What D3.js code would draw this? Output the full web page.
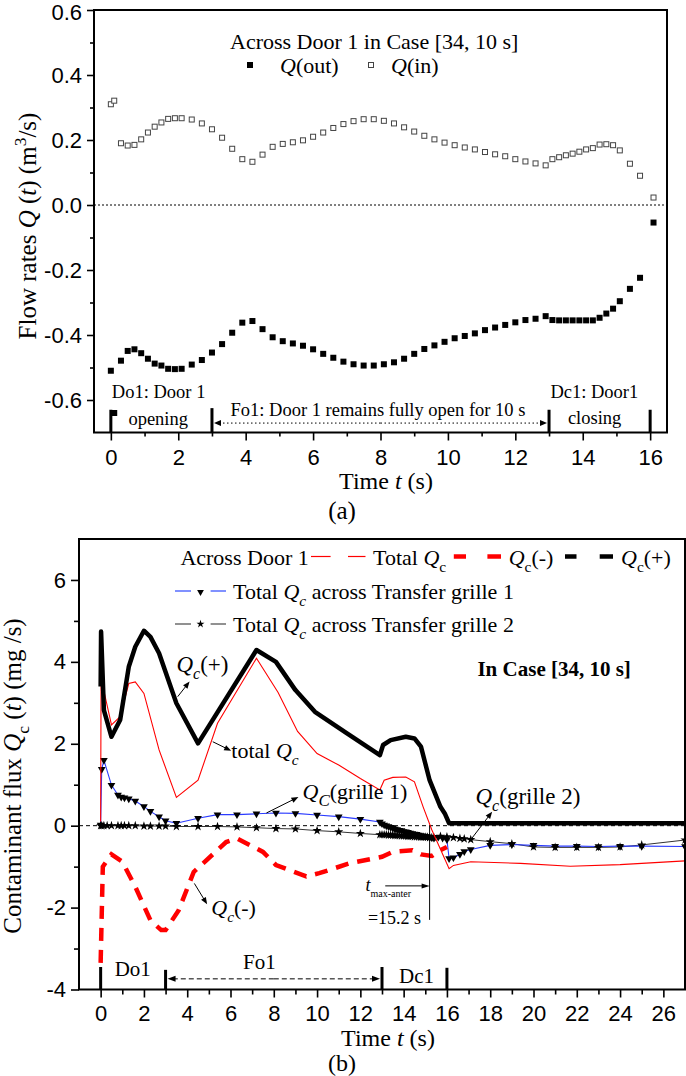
<!DOCTYPE html>
<html><head><meta charset="utf-8">
<script src="https://cdn.jsdelivr.net/npm/d3@7"></script>
<style>html,body{margin:0;padding:0;background:#fff}svg{display:block}</style>
</head><body>
<svg id="chart" width="686" height="1076"></svg>
<script>
// ---------------- Panel (a) data ----------------
const timeA = [0,0.1,0.3,0.5,0.7,0.9,1.1,1.3,1.5,1.7,1.9,2.1,2.4,2.7,3.0,3.3,3.6,3.9,4.2,4.5,4.8,5.1,5.4,5.7,6.0,6.3,6.6,6.9,7.2,7.5,7.8,8.1,8.4,8.7,9.0,9.3,9.6,9.9,10.2,10.5,10.8,11.1,11.4,11.7,12.0,12.3,12.6,12.9,13.1,13.3,13.5,13.7,13.9,14.1,14.3,14.5,14.7,14.9,15.1,15.4,15.7,16.1];
const qOut = [-0.510,-0.640,-0.479,-0.449,-0.444,-0.456,-0.473,-0.488,-0.494,-0.504,-0.505,-0.504,-0.491,-0.477,-0.454,-0.428,-0.393,-0.362,-0.357,-0.382,-0.407,-0.419,-0.426,-0.433,-0.444,-0.458,-0.470,-0.482,-0.490,-0.494,-0.494,-0.490,-0.484,-0.473,-0.458,-0.443,-0.432,-0.421,-0.410,-0.403,-0.395,-0.385,-0.377,-0.369,-0.361,-0.354,-0.350,-0.342,-0.354,-0.355,-0.355,-0.355,-0.355,-0.355,-0.355,-0.347,-0.334,-0.319,-0.296,-0.258,-0.224,-0.054];
const qIn = [0.310,0.321,0.190,0.183,0.185,0.202,0.223,0.241,0.254,0.265,0.267,0.267,0.263,0.251,0.233,0.207,0.173,0.141,0.133,0.155,0.179,0.188,0.193,0.199,0.210,0.223,0.237,0.249,0.258,0.264,0.264,0.259,0.251,0.239,0.226,0.213,0.202,0.192,0.184,0.177,0.171,0.163,0.156,0.150,0.141,0.134,0.128,0.122,0.141,0.147,0.153,0.158,0.164,0.171,0.175,0.186,0.187,0.184,0.168,0.127,0.090,0.023];
const xTicksA = [0,2,4,6,8,10,12,14,16];
const xMinorA = [1,3,5,7,9,11,13,15];
const yTicksA = [-0.6,-0.4,-0.2,0,0.2,0.4,0.6];
const yMinorA = [-0.5,-0.3,-0.1,0.1,0.3,0.5];
const phaseTimes = [0,3,13,16];

// ---------------- Panel (b) data ----------------
const plusT = [0,0.02,0.15,0.5,0.9,1.3,1.6,2.0,2.3,2.7,3.0,3.5,4.5,7.2,8.1,9.0,9.9,11.4,12.9,13.05,13.4,14.1,14.5,14.8,15.2,15.7,15.9,16.1,27];
const plusV = [3.4,4.74,2.82,2.17,2.58,3.88,4.37,4.76,4.61,4.21,3.75,2.99,2.01,4.29,4.0,3.31,2.78,2.25,1.72,1.97,2.09,2.17,2.13,1.93,1.11,0.46,0.30,0.06,0.06];
const totT = [0,0.02,0.5,0.9,1.3,1.6,2.0,2.7,3.5,4.5,5.4,7.2,8.2,9.1,10.0,11.0,12.0,12.9,13.1,13.5,14.1,14.5,14.9,15.3,16.1,16.3,17.1,19.4,21.7,24.0,27];
const totV = [0.1,3.6,2.46,2.66,3.47,3.51,3.23,1.85,0.69,1.11,2.50,4.09,3.25,2.30,1.76,1.48,1.15,0.87,1.11,1.18,1.19,1.07,0.46,-0.10,-1.05,-0.97,-0.88,-0.92,-0.99,-0.95,-0.86];
const minusT = [0,0.1,0.5,1.0,1.6,2.3,2.8,3.0,3.6,4.3,5.8,6.3,7.5,8.1,9.5,10.1,11.5,13.0,13.5,14.4,14.8,15.3,15.7,16.0];
const minusV = [-3.35,-1.0,-0.70,-0.88,-1.49,-2.31,-2.55,-2.55,-2.07,-1.13,-0.40,-0.31,-0.64,-0.96,-1.24,-1.16,-0.92,-0.76,-0.64,-0.60,-0.70,-0.74,-0.60,-0.52];
const g1T = [0,0.05,0.15,0.5,0.8,0.95,1.1,1.3,1.6,2.0,2.3,2.7,3.0,3.5,4.5,5.4,6.3,7.2,8.1,9.0,10.0,11.0,12.0,12.9,13.0,13.1,13.2,13.3,13.4,13.5,13.6,13.7,13.8,13.9,14.0,14.1,14.2,14.3,14.4,14.5,14.6,14.7,14.8,14.9,15.0,15.1,15.2,15.3,15.4,15.6,15.8,16.0,16.1,16.3,16.6,16.8,17.1,18,19,20,21,22,23,24,25,27];
const g1V = [0.02,1.38,1.60,0.99,0.75,0.70,0.68,0.66,0.60,0.47,0.35,0.22,0.12,0.06,0.18,0.27,0.27,0.29,0.31,0.30,0.26,0.22,0.16,0.09,0.05,0.02,0.0,-0.02,-0.04,-0.06,-0.08,-0.09,-0.11,-0.12,-0.14,-0.15,-0.16,-0.18,-0.19,-0.20,-0.21,-0.23,-0.24,-0.25,-0.26,-0.27,-0.28,-0.29,-0.30,-0.28,-0.30,-0.34,-0.80,-0.78,-0.70,-0.63,-0.58,-0.48,-0.46,-0.48,-0.50,-0.50,-0.51,-0.50,-0.50,-0.51];
const g2T = [0,0.05,0.15,0.3,0.5,0.8,0.95,1.1,1.3,1.6,2.0,2.3,2.7,3.0,3.5,4.5,5.4,6.3,7.2,8.1,9.0,10.0,11.0,12.0,12.9,13.0,13.1,13.2,13.3,13.4,13.5,13.6,13.7,13.8,13.9,14.0,14.1,14.2,14.3,14.4,14.5,14.6,14.7,14.8,14.9,15.0,15.1,15.2,15.3,15.4,15.7,16.0,16.3,16.6,16.8,17.1,18,19,20,21,22,23,24,25,27];
const g2V = [0,0,0,0,0,0,0,0,0,0,-0.01,-0.01,-0.01,-0.01,-0.02,-0.02,-0.02,-0.03,-0.05,-0.07,-0.08,-0.12,-0.15,-0.19,-0.22,-0.22,-0.22,-0.22,-0.23,-0.23,-0.23,-0.24,-0.24,-0.24,-0.25,-0.25,-0.25,-0.26,-0.26,-0.26,-0.27,-0.27,-0.27,-0.28,-0.28,-0.28,-0.28,-0.29,-0.29,-0.29,-0.26,-0.27,-0.29,-0.31,-0.32,-0.34,-0.39,-0.44,-0.52,-0.53,-0.53,-0.53,-0.52,-0.47,-0.35];
const xTicksB = [0,2,4,6,8,10,12,14,16,18,20,22,24,26];
const xMinorB = [1,3,5,7,9,11,13,15,17,19,21,23,25];
const yTicksB = [-4,-2,0,2,4,6];
const yMinorB = [-3,-1,1,3,5];
const tMaxAnter = 15.2;

// ---------------- helpers ----------------
const SERIF = "'Liberation Serif','Times New Roman',serif";
const SANS = "'Liberation Sans',Arial,sans-serif";
const svg = d3.select('#chart');
const zip = (a,b) => a.map((d,i)=>[d,b[i]]);

function rich(g, x, y, segs, size, o = {}) {
  const t = g.append('text').attr('x', x).attr('y', y)
    .attr('font-family', SERIF).attr('font-size', size).attr('fill', '#000');
  if (o.anchor) t.attr('text-anchor', o.anchor);
  if (o.weight) t.attr('font-weight', o.weight);
  if (o.transform) t.attr('transform', o.transform);
  let cur = 0;
  segs.forEach(s => {
    if (typeof s === 'string') s = {t: s};
    const sp = t.append('tspan').text(s.t);
    if (s.i) sp.attr('font-style', 'italic');
    const target = s.sub ? size * 0.3 : s.sup ? -size * 0.4 : 0;
    if (target !== cur) sp.attr('dy', target - cur);
    cur = target;
    if (s.sub || s.sup) sp.attr('font-size', s.fs || size * 0.7);
  });
  return t;
}
function arrow(g, x1, y1, x2, y2, o = {}) {
  const len = o.head || 7, w = o.w || 3;
  const a = Math.atan2(y2 - y1, x2 - x1);
  g.append('line').attr('x1', x1).attr('y1', y1)
    .attr('x2', x2 - Math.cos(a) * len * 0.7).attr('y2', y2 - Math.sin(a) * len * 0.7)
    .attr('stroke', '#000').attr('stroke-width', o.sw || 1)
    .attr('stroke-dasharray', o.dash || null);
  const bx = x2 - Math.cos(a) * len, by = y2 - Math.sin(a) * len;
  const px = -Math.sin(a) * w, py = Math.cos(a) * w;
  g.append('path').attr('d', `M${x2},${y2}L${bx+px},${by+py}L${bx-px},${by-py}Z`).attr('fill', '#000');
}
function styleAxis(g, size) {
  g.select('.domain').remove();
  g.selectAll('line').attr('stroke', '#000').attr('stroke-width', 1.6);
  g.selectAll('text').attr('font-family', SANS).attr('font-size', size).attr('fill', '#000');
}

// ================= Panel (a) =================
const xA = d3.scaleLinear([-0.5, 16.5], [94, 667]);
const yA = d3.scaleLinear([-0.7, 0.6], [432.5, 10]);
const gA = svg.append('g');

gA.append('line').attr('x1', xA.range()[0]).attr('x2', xA.range()[1])
  .attr('y1', yA(0)).attr('y2', yA(0)).attr('stroke', '#000').attr('stroke-width', 1)
  .attr('stroke-dasharray', '2,2');

gA.append('g').attr('transform', `translate(0,${yA.range()[0]})`)
  .call(d3.axisBottom(xA).tickValues(xTicksA).tickSize(8).tickPadding(9).tickFormat(d => String(d)))
  .call(g => styleAxis(g, 22));
gA.append('g').attr('transform', `translate(0,${yA.range()[0]})`)
  .call(d3.axisBottom(xA).tickValues(xMinorA).tickSize(4).tickFormat(''))
  .call(g => styleAxis(g, 22));
gA.append('g').attr('transform', `translate(${xA.range()[0]},0)`)
  .call(d3.axisLeft(yA).tickValues(yTicksA).tickSize(7).tickPadding(5).tickFormat(d => d.toFixed(1)))
  .call(g => styleAxis(g, 22));
gA.append('g').attr('transform', `translate(${xA.range()[0]},0)`)
  .call(d3.axisLeft(yA).tickValues(yMinorA).tickSize(4).tickFormat(''))
  .call(g => styleAxis(g, 22));
gA.selectAll('text').filter(function(){ return this.textContent === '0.6'; }).attr('dy', '0.45em');

const sq = 6;
gA.append('g').selectAll('rect').data(zip(timeA, qIn)).join('rect')
  .attr('x', d => xA(d[0]) - sq/2 + 0.5).attr('y', d => yA(d[1]) - sq/2 + 0.5)
  .attr('width', sq - 1).attr('height', sq - 1)
  .attr('fill', '#fff').attr('stroke', '#444').attr('stroke-width', 1);
gA.append('g').selectAll('rect').data(zip(timeA, qOut)).join('rect')
  .attr('x', d => xA(d[0]) - sq/2).attr('y', d => yA(d[1]) - sq/2)
  .attr('width', sq).attr('height', sq).attr('fill', '#000');

phaseTimes.forEach((t, i) => {
  gA.append('line').attr('x1', xA(t)).attr('x2', xA(t))
    .attr('y1', yA(i === 1 ? -0.625 : -0.63)).attr('y2', yA(-0.7))
    .attr('stroke', '#000').attr('stroke-width', 3);
});
const yArrA = yA(-0.671);
arrow(gA, (xA(3) + xA(13)) / 2, yArrA, xA(3) + 2, yArrA, {dash: '1.5,2.5', head: 7, w: 3});
arrow(gA, (xA(3) + xA(13)) / 2, yArrA, xA(13) - 2, yArrA, {dash: '1.5,2.5', head: 7, w: 3});

rich(gA, xA(0.03), yA(-0.594), ['Do1: Door 1'], 18.5);
rich(gA, xA(0.52), yA(-0.677), ['opening'], 18.5);
rich(gA, xA(3.55), yA(-0.649), ['Fo1: Door 1 remains fully open for 10 s'], 18.5);
rich(gA, xA(13.04), yA(-0.594), ['Dc1: Door1'], 18.5);
rich(gA, xA(13.56), yA(-0.674), ['closing'], 18.5);

rich(gA, 230, 49, ['Across Door 1 in Case [34, 10 s]'], 22);
gA.append('rect').attr('x', 250 - 3).attr('y', 65 - 3).attr('width', 6).attr('height', 6).attr('fill', '#000');
rich(gA, 280, 73, [{t: 'Q', i: 1}, '(out)'], 22);
gA.append('rect').attr('x', 371 - 2.5).attr('y', 65 - 2.5).attr('width', 5).attr('height', 5)
  .attr('fill', '#fff').attr('stroke', '#444');
rich(gA, 391, 73, [{t: 'Q', i: 1}, '(in)'], 22);

gA.append('rect').attr('x', 94).attr('y', 10).attr('width', 573).attr('height', 422.5)
  .attr('fill', 'none').attr('stroke', '#000').attr('stroke-width', 2);

rich(gA, 0, 0, ['Flow rates ', {t: 'Q', i: 1}, ' (', {t: 't', i: 1}, ') (m', {t: '3', sup: 1}, '/s)'], 25,
  {anchor: 'middle', transform: 'translate(36,226) rotate(-90)'});
rich(gA, 386, 489, ['Time ', {t: 't', i: 1}, ' (s)'], 24, {anchor: 'middle'});
rich(gA, 342, 519, ['(a)'], 25, {anchor: 'middle'});

// ================= Panel (b) =================
const xB = d3.scaleLinear([-1, 27], [79, 685]);
const yB = d3.scaleLinear([-4, 7], [989.5, 539]);
const gB = svg.append('g');
const clip = svg.append('defs').append('clipPath').attr('id', 'clipB');
clip.append('rect').attr('x', 79).attr('y', 539).attr('width', 606).attr('height', 450.5);

gB.append('line').attr('x1', xB.range()[0]).attr('x2', xB.range()[1])
  .attr('y1', yB(0)).attr('y2', yB(0)).attr('stroke', '#000').attr('stroke-width', 1)
  .attr('stroke-dasharray', '4,3');

gB.append('g').attr('transform', `translate(0,${yB.range()[0]})`)
  .call(d3.axisBottom(xB).tickValues(xTicksB).tickSize(8).tickPadding(7.5).tickFormat(d => String(d)))
  .call(g => styleAxis(g, 22));
gB.append('g').attr('transform', `translate(0,${yB.range()[0]})`)
  .call(d3.axisBottom(xB).tickValues(xMinorB).tickSize(5).tickFormat(''))
  .call(g => styleAxis(g, 22));
gB.append('g').attr('transform', `translate(${xB.range()[0]},0)`)
  .call(d3.axisLeft(yB).tickValues(yTicksB).tickSize(8).tickPadding(5).tickFormat(d => String(d)))
  .call(g => styleAxis(g, 22));
gB.append('g').attr('transform', `translate(${xB.range()[0]},0)`)
  .call(d3.axisLeft(yB).tickValues(yMinorB).tickSize(5).tickFormat(''))
  .call(g => styleAxis(g, 22));

const lineB = d3.line().x(d => xB(d[0])).y(d => yB(d[1]));
const plot = gB.append('g').attr('clip-path', 'url(#clipB)');

plot.append('path').attr('d', lineB(zip(g2T, g2V))).attr('fill', 'none')
  .attr('stroke', '#333').attr('stroke-width', 1);
plot.append('path').attr('d', lineB(zip(g1T, g1V))).attr('fill', 'none')
  .attr('stroke', '#2b3bff').attr('stroke-width', 1.1);
const star = d3.symbol().type(d3.symbolStar).size(26);
const tri = d3.symbol().type(d3.symbolTriangle).size(26);
plot.append('g').selectAll('path').data(zip(g2T, g2V)).join('path')
  .attr('d', star).attr('transform', d => `translate(${xB(d[0])},${yB(d[1])})`).attr('fill', '#000');
plot.append('g').selectAll('path').data(zip(g1T, g1V)).join('path')
  .attr('d', tri).attr('transform', d => `translate(${xB(d[0])},${yB(d[1])}) rotate(180)`).attr('fill', '#000');
plot.append('path').attr('d', lineB(zip(totT, totV))).attr('fill', 'none')
  .attr('stroke', '#ff0000').attr('stroke-width', 1.1);
plot.append('path').attr('d', lineB(zip(minusT, minusV))).attr('fill', 'none')
  .attr('stroke', '#ff0000').attr('stroke-width', 4.5).attr('stroke-dasharray', '13,9');
plot.append('path').attr('d', lineB(zip(plusT, plusV))).attr('fill', 'none')
  .attr('stroke', '#000').attr('stroke-width', 4.5).attr('stroke-linejoin', 'round');

gB.append('line').attr('x1', xB(tMaxAnter)).attr('x2', xB(tMaxAnter))
  .attr('y1', yB(0)).attr('y2', yB(-2.3)).attr('stroke', '#000').attr('stroke-width', 1);
arrow(gB, xB(13.15), yB(-1.47), xB(tMaxAnter), yB(-1.47), {head: 8, w: 2.5});
rich(gB, xB(12.24), yB(-1.6), [{t: 't', i: 1}, {t: 'max-anter', sub: 1, fs: 10}], 18);
rich(gB, xB(12.35), yB(-2.41), ['=15.2 s'], 18);

const barTopB = [-3.45, -3.52, -3.45, -3.47];
phaseTimes.forEach((t, i) => {
  gB.append('line').attr('x1', xB(t)).attr('x2', xB(t))
    .attr('y1', yB(barTopB[i])).attr('y2', yB(-4))
    .attr('stroke', '#000').attr('stroke-width', 3);
});
const yArrB = yB(-3.74);
arrow(gB, (xB(3) + xB(13)) / 2, yArrB, xB(3) + 2, yArrB, {dash: '5,3', head: 8, w: 3});
arrow(gB, (xB(3) + xB(13)) / 2, yArrB, xB(13) - 2, yArrB, {dash: '5,3', head: 8, w: 3});
rich(gB, xB(0.65), yB(-3.67), ['Do1'], 21);
rich(gB, xB(6.58), yB(-3.5), ['Fo1'], 21);
rich(gB, xB(13.79), yB(-3.84), ['Dc1'], 21);

arrow(gB, xB(3.56), yB(3.15), xB(4.11), yB(3.52), {head: 7, w: 2.8});
rich(gB, xB(3.5), yB(3.75), [{t: 'Q', i: 1}, {t: 'c', i: 1, sub: 1}, '(+)'], 23);
arrow(gB, xB(5.18), yB(2.05), xB(6.03), yB(1.83), {head: 7, w: 2.8});
rich(gB, xB(6.04), yB(1.65), ['total ', {t: 'Q', i: 1}, {t: 'c', i: 1, sub: 1}], 22);
arrow(gB, xB(7.66), yB(0.31), xB(9.14), yB(0.70), {head: 7, w: 2.8});
rich(gB, xB(9.33), yB(0.65), [{t: 'Q', i: 1}, {t: 'C', i: 1, sub: 1, fs: 17}, '(grille 1)'], 22);
arrow(gB, xB(17.09), yB(-0.35), xB(18.09), yB(0.34), {head: 7, w: 2.8});
rich(gB, xB(17.32), yB(0.53), [{t: 'Q', i: 1}, {t: 'c', i: 1, sub: 1}, '(grille 2)'], 23);
arrow(gB, xB(4.33), yB(-1.41), xB(4.92), yB(-1.92), {head: 7, w: 2.8});
rich(gB, xB(5.11), yB(-2.19), [{t: 'Q', i: 1}, {t: 'c', i: 1, sub: 1}, '(-)'], 22);
rich(gB, xB(17.41), yB(3.66), ['In Case [34, 10 s]'], 21, {weight: 'bold'});

const L = gB.append('g');
rich(L, 180.4, 565, ['Across Door 1'], 22);
const seg = (x1, x2, y, col, w) => L.append('line').attr('x1', x1).attr('x2', x2).attr('y1', y).attr('y2', y)
  .attr('stroke', col).attr('stroke-width', w);
seg(311, 330.6, 556.5, '#ff0000', 1.2); seg(348, 365.5, 556.5, '#ff0000', 1.2);
rich(L, 373, 565, ['Total ', {t: 'Q', i: 1}, {t: 'c', sub: 1}], 22);
seg(453.8, 466, 556.5, '#ff0000', 4.5); seg(487.4, 501, 556.5, '#ff0000', 4.5);
rich(L, 508.7, 565, [{t: 'Q', i: 1}, {t: 'c', sub: 1}, '(-)'], 22);
seg(565, 576.5, 556.5, '#000', 4.5); seg(599.7, 613, 556.5, '#000', 4.5);
rich(L, 621, 565, [{t: 'Q', i: 1}, {t: 'c', sub: 1}, '(+)'], 22);
seg(175, 191, 591, '#3b55ff', 1.3); seg(210.6, 226, 591, '#3b55ff', 1.3);
L.append('path').attr('d', d3.symbol().type(d3.symbolTriangle).size(20))
  .attr('transform', 'translate(200.5,592) rotate(180)').attr('fill', '#000');
rich(L, 233, 599, ['Total ', {t: 'Q', i: 1}, {t: 'c', i: 1, sub: 1}, ' across Transfer grille 1'], 22);
seg(175, 191, 624, '#555', 1.3); seg(210.6, 226, 624, '#555', 1.3);
L.append('path').attr('d', d3.symbol().type(d3.symbolStar).size(20))
  .attr('transform', 'translate(200.5,624)').attr('fill', '#000');
rich(L, 233, 632, ['Total ', {t: 'Q', i: 1}, {t: 'c', i: 1, sub: 1}, ' across Transfer grille 2'], 22);

gB.append('rect').attr('x', 79).attr('y', 539).attr('width', 606).attr('height', 450.5)
  .attr('fill', 'none').attr('stroke', '#000').attr('stroke-width', 2);

rich(gB, 0, 0, ['Contaminant flux ', {t: 'Q', i: 1}, {t: 'c', sub: 1}, ' (', {t: 't', i: 1}, ') (mg /s)'], 25,
  {anchor: 'middle', transform: 'translate(21,776) rotate(-90)'});
rich(gB, 388, 1046, ['Time ', {t: 't', i: 1}, ' (s)'], 24, {anchor: 'middle'});
rich(gB, 342, 1071, ['(b)'], 24, {anchor: 'middle'});
</script>
</body></html>
